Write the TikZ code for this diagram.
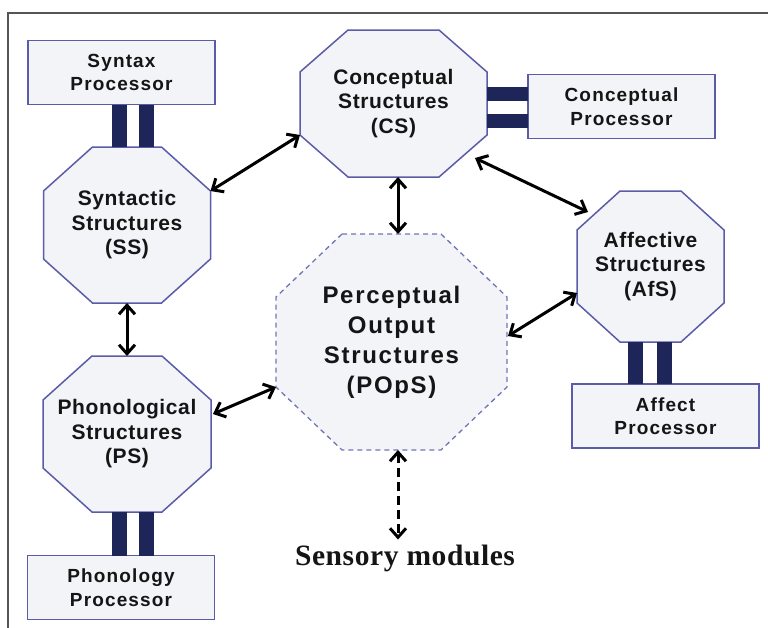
\documentclass[tikz,border=0pt]{standalone}
\usepackage{fontspec}
\setmainfont{Liberation Sans}
\newfontfamily\labfont[LetterSpace=3]{Liberation Sans}
\newfontfamily\procfont[LetterSpace=6]{Liberation Sans}
\newfontfamily\popsfont[LetterSpace=7]{Liberation Sans}
\newfontfamily\serfont[LetterSpace=2]{Liberation Serif}
\usetikzlibrary{calc,arrows.meta,backgrounds}
\definecolor{fillc}{HTML}{F3F4F7}
\definecolor{edgec}{HTML}{5A5CA8}
\definecolor{barc}{HTML}{1E2558}
\definecolor{framec}{HTML}{555555}
\definecolor{txtc}{HTML}{151515}
% octagon outline drawn around a (rectangular, invisible) node
\newcommand\octoutline[4][]{%
  \filldraw[octline,#1] ($(#2.north west)+(#3,0)$) -- ($(#2.north east)+(-#3,0)$)
    -- ($(#2.north east)+(0,#4)$) -- ($(#2.south east)+(0,-#4)$)
    -- ($(#2.south east)+(-#3,0)$) -- ($(#2.south west)+(#3,0)$)
    -- ($(#2.south west)+(0,-#4)$) -- ($(#2.north west)+(0,#4)$) -- cycle;}
\begin{document}
\begin{tikzpicture}[x=1pt,y=-1pt,
  octnode/.style={shape=rectangle,inner sep=0pt,outer sep=0pt,align=center,
    text=txtc,font=\labfont\bfseries\fontsize{21}{24.5}\selectfont},
  octline/.style={draw=edgec,fill=fillc,line width=1.5pt,line join=miter},
  procbox/.style={shape=rectangle,draw=edgec,fill=fillc,line width=1.8pt,
    minimum width=187pt,minimum height=64pt,inner sep=0pt,outer sep=0pt,align=center,
    text=txtc,font=\procfont\bfseries\fontsize{19}{23.5}\selectfont},
  bar/.style={draw=barc,line width=15pt},
  arr/.style={line width=3pt,black,
    arrows={Straight Barb[length=9pt,width=16pt]-Straight Barb[length=9pt,width=16pt]}},
  darr/.style={arr,dash pattern=on 9pt off 5pt}
]
\useasboundingbox (0,0) rectangle (768,627);
\draw[framec,line width=2pt] (8,640) -- (8,13) -- (790,13);

% processors
\node[procbox] (synp) at (121.5,72.5) {Syntax\\Processor};
\node[procbox] (concp) at (621.5,106.5) {Conceptual\\Processor};
\node[procbox] (affp) at (665.5,416) {Affect\\Processor};
\node[procbox] (phonp) at (121,587.5) {Phonology\\Processor};

% structures (octagons)
\node[octnode,minimum width=187pt,minimum height=147pt] (cs) at (393.5,103.5) {Conceptual\\Structures\\(CS)};
\node[octnode,minimum width=167pt,minimum height=156pt] (ss) at (127,225) {Syntactic\\Structures\\(SS)};
\node[octnode,minimum width=168pt,minimum height=156pt] (ps) at (127,434) {Phonological\\Structures\\(PS)};
\node[octnode,minimum width=147pt,minimum height=151pt] (afs) at (650.5,266.5) {Affective\\Structures\\(AfS)};
\node[octnode,minimum width=231pt,minimum height=216pt,
  font=\popsfont\bfseries\fontsize{24}{30}\selectfont] (pops) at (391.5,342)
  {Perceptual\\Output\\Structures\\(POpS)};

\begin{pgfonlayer}{background}
\octoutline{cs}{48}{42}
\octoutline{ss}{49}{44}
\octoutline{ps}{49}{44}
\octoutline{afs}{43}{39}
\octoutline[dash pattern=on 5pt off 4pt,line width=1.3pt,draw=edgec!85]{pops}{66}{63}
\end{pgfonlayer}

\node[anchor=base,inner sep=2pt,outer sep=3pt,text=txtc,
  font=\serfont\bfseries\fontsize{29.5}{34}\selectfont] (sens) at (405,565) {Sensory modules};

% bars
\coordinate (bx1) at (119.5,0);
\coordinate (bx2) at (146.5,0);
\coordinate (bx3) at (635.5,0);
\coordinate (bx4) at (664,0);
\coordinate (by1) at (0,94);
\coordinate (by2) at (0,121);
\draw[bar] (synp.south -| bx1) -- (ss.north -| bx1);
\draw[bar] (synp.south -| bx2) -- (ss.north -| bx2);
\draw[bar] (ps.south -| bx1) -- (phonp.north -| bx1);
\draw[bar] (ps.south -| bx2) -- (phonp.north -| bx2);
\draw[bar] (afs.south -| bx3) -- (affp.north -| bx3);
\draw[bar] (afs.south -| bx4) -- (affp.north -| bx4);
\draw[bar,line width=14pt] (cs.east |- by1) -- (concp.west |- by1);
\draw[bar,line width=14pt] (cs.east |- by2) -- (concp.west |- by2);

% arrow end points
\coordinate (vx) at (398,0);
\coordinate (csA) at ($(cs.south west)+(0,-42)$);
\coordinate (ssA) at ($(ss.north east)+(0,44)$);
\coordinate (csB) at ($(cs.south east)+(-12,-19)$);
\coordinate (afsA) at ($(afs.north west)+(11,21)$);
\coordinate (afsB) at ($(afs.south west)+(0,-49)$);
\coordinate (popsA) at ($(pops.east)+(1,-6)$);
\coordinate (psA) at ($(ps.east)+(2,-20)$);
\coordinate (popsB) at ($(pops.south west)+(0,-63)$);

\draw[arr] (csA) -- (ssA);
\draw[arr] (cs.south -| vx) -- (pops.north -| vx);
\draw[arr] (csB) -- (afsA);
\draw[arr] (popsA) -- (afsB);
\draw[arr] (psA) -- (popsB);
\draw[arr] (ss.south) -- (ps.north);
\draw[darr] (pops.south -| vx) -- (sens.north -| vx);
\end{tikzpicture}
\end{document}
